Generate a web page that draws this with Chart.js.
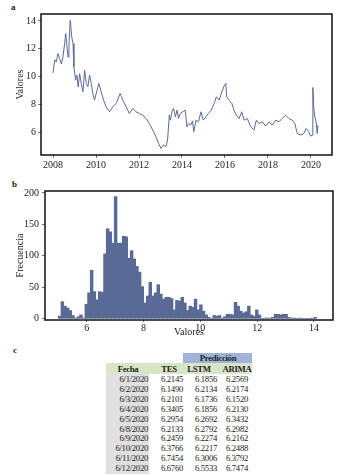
<!DOCTYPE html>
<html>
<head>
<meta charset="utf-8">
<script src="https://cdn.jsdelivr.net/npm/chart.js@4.4.1/dist/chart.umd.min.js"></script>
<style>
  body { margin: 0; background: #fff; width: 340px; height: 475px; position: relative; overflow: hidden;
         font-family: 'Liberation Serif', 'DejaVu Serif', serif; color: #222; }
  .tag { position: absolute; font-weight: bold; font-size: 9px; }
  #boxA { position: absolute; left: 0; top: 0; width: 340px; height: 170px; }
  #boxB { position: absolute; left: 0; top: 175px; width: 340px; height: 165px; }
  #tbl div { position: absolute; font-size: 8.7px; letter-spacing: -0.3px; line-height: 10px; white-space: nowrap; }
  #tbl .bg { letter-spacing: 0; }
  #tbl .hd { font-weight: bold; text-align: center; }
  #tbl .r { text-align: right; }
</style>
</head>
<body>

<div class="tag" style="left:11px; top:2px;">a</div>
<div id="boxA"><canvas id="serie" width="340" height="170"></canvas></div>

<div class="tag" style="left:12px; top:179px;">b</div>
<div id="boxB"><canvas id="histo" width="340" height="165"></canvas></div>

<div class="tag" style="left:13px; top:345px;">c</div>
<div id="tbl"></div>

<script>
// --- panel a: daily values 2008-2020 (decimal year, value)
const years = [
  2008.00, 2008.08, 2008.15, 2008.23, 2008.31, 2008.39, 2008.46, 2008.54, 2008.59, 2008.65,
  2008.70, 2008.74, 2008.80, 2008.87, 2008.93, 2008.97, 2009.05, 2009.11, 2009.17, 2009.24,
  2009.31, 2009.39, 2009.47, 2009.55, 2009.62, 2009.70, 2009.78, 2009.85, 2009.93, 2010.01,
  2010.13, 2010.24, 2010.35, 2010.47, 2010.63, 2010.78, 2010.94, 2011.12, 2011.25, 2011.40,
  2011.55, 2011.71, 2011.86, 2012.02, 2012.17, 2012.33, 2012.48, 2012.64, 2012.79, 2012.91,
  2013.02, 2013.13, 2013.25, 2013.33, 2013.41, 2013.46, 2013.53, 2013.61, 2013.69, 2013.77,
  2013.84, 2013.92, 2014.03, 2014.15, 2014.23, 2014.31, 2014.41, 2014.49, 2014.55, 2014.65,
  2014.77, 2014.88, 2014.99, 2015.11, 2015.23, 2015.36, 2015.50, 2015.60, 2015.73, 2015.85,
  2015.98, 2016.04, 2016.08, 2016.19, 2016.32, 2016.42, 2016.53, 2016.66, 2016.78, 2016.89,
  2017.04, 2017.20, 2017.35, 2017.46, 2017.58, 2017.74, 2017.89, 2018.05, 2018.20, 2018.36,
  2018.51, 2018.66, 2018.82, 2018.97, 2019.13, 2019.25, 2019.36, 2019.51, 2019.67, 2019.78,
  2019.90, 2019.98, 2020.06, 2020.09, 2020.13, 2020.18, 2020.24, 2020.29, 2020.33
];
const values = [
  10.26, 11.20, 11.05, 11.65, 11.30, 10.90, 11.40, 12.37, 13.10, 12.10,
  11.40, 12.25, 14.05, 12.85, 12.37, 10.70, 9.74, 10.10, 9.26, 10.20,
  9.50, 8.90, 10.45, 9.50, 9.26, 10.10, 9.50, 8.78, 8.30, 8.78,
  9.50, 8.90, 8.30, 7.82, 7.46, 7.82, 8.06, 8.78, 8.30, 7.82,
  7.34, 7.70, 7.46, 7.34, 7.22, 6.98, 6.62, 6.14, 5.66, 5.19,
  4.83, 5.07, 4.95, 5.43, 7.22, 6.86, 7.46, 7.70, 7.10, 7.58,
  6.98, 7.34, 7.46, 7.58, 6.38, 6.62, 6.50, 6.81, 6.02, 6.86,
  6.74, 7.46, 6.86, 7.10, 7.34, 7.58, 8.06, 8.54, 8.30, 8.90,
  9.38, 9.50, 8.54, 8.30, 8.06, 7.58, 7.22, 6.98, 7.46, 6.86,
  6.98, 6.38, 6.14, 6.86, 6.62, 6.74, 6.43, 6.74, 6.50, 6.86,
  6.74, 6.98, 7.22, 6.98, 6.86, 6.62, 5.90, 5.78, 5.90, 6.26,
  6.02, 5.71, 5.78, 9.21, 7.82, 7.10, 6.74, 5.90, 6.50
];
const yearTicks = [2008, 2010, 2012, 2014, 2016, 2018, 2020];
const valueTicks = [6, 8, 10, 12, 14];

// --- panel b: histogram of the same values
const binStart = 5.0;
const binWidth = 0.0938;
const counts = [
  4, 27, 20, 17, 13, 5, 1, 3, 6, 1,
  23, 41, 77, 43, 30, 43, 42, 103, 143, 138,
  120, 194, 120, 120, 131, 130, 96, 108, 95, 83,
  74, 51, 25, 36, 58, 36, 41, 54, 39, 31,
  34, 34, 32, 14, 29, 28, 34, 25, 13, 20,
  18, 31, 14, 22, 12, 6, 2, 0, 5, 4,
  5, 1, 3, 7, 7, 6, 26, 20, 12, 9,
  11, 20, 6, 4, 14, 6, 0, 1, 1, 1,
  2, 7, 7, 6, 7, 7, 2, 1, 1, 0,
  1, 0, 0, 0, 0, 1, 2
];
const histTicks = [6, 8, 10, 12, 14];
const freqTicks = [0, 50, 100, 150, 200];

// --- panel c: forecasts for June 2020
const fechas = ['6/1/2020', '6/2/2020', '6/3/2020', '6/4/2020', '6/5/2020',
                '6/8/2020', '6/9/2020', '6/10/2020', '6/11/2020', '6/12/2020'];
const tes   = ['6.2145', '6.1490', '6.2101', '6.3405', '6.2954', '6.2133', '6.2459', '6.3766', '6.7454', '6.6760'];
const lstm  = ['6.1856', '6.2134', '6.1736', '6.1856', '6.2692', '6.2792', '6.2274', '6.2217', '6.3006', '6.5533'];
const arima = ['6.2569', '6.2174', '6.1520', '6.2130', '6.3432', '6.2982', '6.2162', '6.2488', '6.3792', '6.7474'];

const serif = "'Liberation Serif', 'DejaVu Serif', serif";
const ink = '#222';
const slate = '#5a6a96';

// black box around the plot area
const frame = {
  id: 'frame',
  afterDraw(chart) {
    const { ctx, chartArea: a } = chart;
    ctx.save();
    ctx.strokeStyle = '#111';
    ctx.lineWidth = 1.5;
    ctx.strokeRect(a.left, a.top, a.right - a.left, a.bottom - a.top);
    ctx.restore();
  }
};

function fixedTicks(list) {
  return scale => { scale.ticks = list.map(v => ({ value: v })); };
}

function axisGrid(len) {
  return { display: true, drawOnChartArea: false, drawTicks: true, tickLength: len, color: '#777' };
}

// chart a ----------------------------------
new Chart(document.getElementById('serie'), {
  type: 'line',
  data: {
    datasets: [{
      data: years.map((x, i) => ({ x: x, y: values[i] })),
      borderColor: slate,
      borderWidth: 1,
      pointRadius: 0,
      tension: 0
    }]
  },
  options: {
    responsive: false,
    animation: false,
    layout: { padding: { left: 0, right: 8, top: 14, bottom: 0 } },
    plugins: { legend: { display: false }, tooltip: { enabled: false } },
    scales: {
      x: {
        type: 'linear', min: 2007.44, max: 2020.98,
        afterBuildTicks: fixedTicks(yearTicks),
        afterFit: s => { s.height = 15; },
        grid: axisGrid(3),
        border: { display: false },
        ticks: { color: ink, font: { family: serif, size: 10 }, padding: 1, maxRotation: 0,
                 callback: v => String(v) }
      },
      y: {
        min: 4.35, max: 14.5,
        afterBuildTicks: fixedTicks(valueTicks),
        afterFit: s => { s.width = 41; },
        grid: axisGrid(3),
        border: { display: false },
        ticks: { color: ink, font: { family: serif, size: 10 }, padding: 2 },
        title: { display: true, text: 'Valores', color: ink, font: { family: serif, size: 10 },
                 padding: { top: 14, bottom: 0 } }
      }
    }
  },
  plugins: [frame]
});

// chart b ----------------------------------
new Chart(document.getElementById('histo'), {
  type: 'bar',
  data: {
    datasets: [{
      data: counts.map((c, i) => ({ x: binStart + binWidth * (i + 0.5), y: c })),
      backgroundColor: slate,
      borderWidth: 0,
      inflateAmount: 0.4,
      barPercentage: 1,
      categoryPercentage: 1
    }]
  },
  options: {
    responsive: false,
    animation: false,
    layout: { padding: { left: 0, right: 7, top: 16, bottom: 0 } },
    plugins: { legend: { display: false }, tooltip: { enabled: false } },
    scales: {
      x: {
        type: 'linear', min: 4.53, max: 14.67, offset: false,
        afterBuildTicks: fixedTicks(histTicks),
        afterFit: s => { s.height = 20; },
        grid: Object.assign(axisGrid(2), { offset: false }),
        border: { display: false },
        ticks: { color: ink, font: { family: serif, size: 10 }, padding: 0, maxRotation: 0 },
        title: { display: true, text: 'Valores', color: ink, font: { family: serif, size: 10 },
                 padding: { top: 0, bottom: 2 } }
      },
      y: {
        min: -2, max: 203,
        afterBuildTicks: fixedTicks(freqTicks),
        afterFit: s => { s.width = 45; },
        grid: axisGrid(3),
        border: { display: false },
        ticks: { color: ink, font: { family: serif, size: 10 }, padding: 3 },
        title: { display: true, text: 'Frecuencia', color: ink, font: { family: serif, size: 10 },
                 padding: { top: 14, bottom: 0 } }
      }
    }
  },
  plugins: [frame]
});

// table c ----------------------------------
const tbl = document.getElementById('tbl');
function cell(txt, css, cls) {
  const d = document.createElement('div');
  d.className = cls || '';
  d.style.cssText = css;
  d.textContent = txt;
  tbl.appendChild(d);
}
cell('', 'left:183px;top:353px;width:69px;height:10px;background:#9fb3db;', 'bg');
cell('', 'left:106px;top:363px;width:146px;height:11px;background:#d8e5c6;', 'bg');
cell('', 'left:106px;top:374px;width:43px;height:100px;background:#e0e0e0;', 'bg');

cell('Predicción', 'left:188px;top:353px;width:60px;', 'hd');
cell('Fecha', 'left:98px;top:364px;width:60px;', 'hd');
cell('TES', 'left:139px;top:364px;width:60px;', 'hd');
cell('LSTM', 'left:169px;top:364px;width:60px;', 'hd');
cell('ARIMA', 'left:207px;top:364px;width:60px;', 'hd');

fechas.forEach((f, i) => {
  const top = 374 + i * 9.9;
  cell(f, 'left:98px;top:' + top + 'px;width:50px;', 'r');
  cell(tes[i], 'left:150px;top:' + top + 'px;width:33px;', 'r');
  cell(lstm[i], 'left:184px;top:' + top + 'px;width:33px;', 'r');
  cell(arima[i], 'left:215px;top:' + top + 'px;width:33px;', 'r');
});
</script>
</body>
</html>
